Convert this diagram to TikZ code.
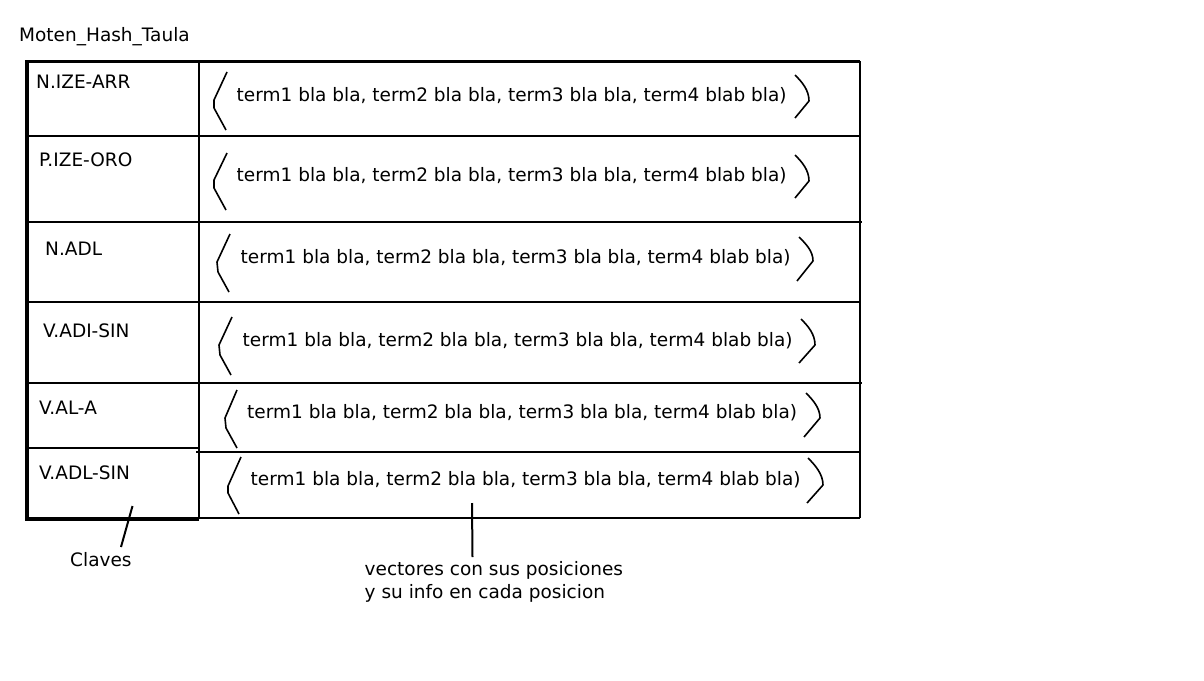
\documentclass[tikz,border=0pt]{standalone}
\usepackage{fontspec}
\setmainfont{DejaVu Sans}
\begin{document}
\begin{tikzpicture}[x=1pt,y=-1pt,
  txt/.style={anchor=base west,inner sep=0pt,font=\fontsize{18.5}{22}\selectfont},
  thin/.style={line width=2pt},
  brk/.style={line width=1.6pt,line join=round}]
\useasboundingbox (0,0) rectangle (1204,680);
% title
\node[txt] (title) at (19,41) {Moten\_Hash\_Taula};
% table lines
\draw[line width=3pt] (27,61) -- (860,61);
\draw[thin] (860,61) -- (860,518);
\draw[thin] (199,61) -- (199,519);
\draw[thin] (27,136) -- (860,136);
\draw[thin] (27,222) -- (862,222);
\draw[thin] (27,302) -- (860,302);
\draw[thin] (27,383) -- (862,383);
\draw[thin] (27,448) -- (199,448);
\draw[thin] (196,452) -- (860,452);
\draw[thin] (199,518) -- (860,518);
\draw[line width=3.5pt] (199,519) -- (27,519) -- (27,59.5);
% keys
\node[txt] (k1) at (36,88) {N.IZE-ARR};
\node[txt] (k2) at (39,166) {P.IZE-ORO};
\node[txt] (k3) at (45,255) {N.ADL};
\node[txt] (k4) at (43,337) {V.ADI-SIN};
\node[txt] (k5) at (39,414) {V.AL-A};
\node[txt] (k6) at (39,479) {V.ADL-SIN};
% vectors
\node[txt] (v1) at (236.5,101) {term1 bla bla, term2 bla bla, term3 bla bla, term4 blab bla)};
\node[txt] (v2) at (236.5,181) {term1 bla bla, term2 bla bla, term3 bla bla, term4 blab bla)};
\node[txt] (v3) at (240.5,263) {term1 bla bla, term2 bla bla, term3 bla bla, term4 blab bla)};
\node[txt] (v4) at (242.5,346) {term1 bla bla, term2 bla bla, term3 bla bla, term4 blab bla)};
\node[txt] (v5) at (247,418) {term1 bla bla, term2 bla bla, term3 bla bla, term4 blab bla)};
\node[txt] (v6) at (250.5,485) {term1 bla bla, term2 bla bla, term3 bla bla, term4 blab bla)};
% left brackets
\draw[brk] (227,72) -- (214,100) -- (214,108) -- (226,130);
\draw[brk] (227,153) -- (214,180) -- (214,188) -- (226,210);
\draw[brk] (230,234) -- (217,262) -- (218,272) -- (229,292);
\draw[brk] (232,317) -- (219,345) -- (220,355) -- (231,375);
\draw[brk] (237,390) -- (225,418) -- (226,428) -- (237,448);
\draw[brk] (241,457) -- (228,486) -- (228,493) -- (239,514);
% right brackets
\draw[brk] (795,75) .. controls (802,82) and (809,90) .. (809,101) -- (795,118);
\draw[brk] (795,155) .. controls (802,162) and (809,170) .. (809,181) -- (795,198);
\draw[brk] (799,237) .. controls (806,244) and (813,251) .. (813,261) -- (797,281);
\draw[brk] (801,319) .. controls (808,326) and (815,334) .. (815,345) -- (799,363);
\draw[brk] (806,393) .. controls (813,400) and (820,408) .. (820,418) -- (804,437);
\draw[brk] (808,458) .. controls (815,465) and (823,474) .. (823,485) -- (807,503);
% annotations
\node[txt] (claves) at (70,566) {Claves};
\coordinate (cp) at (132.5,506);
\draw[thin] (cp) -- (121,547);
\node[txt,align=left,anchor=north west] (vec) at (364.5,561) {vectores con sus posiciones\\[1pt]y su info en cada posicion};
\coordinate (vp) at (472,503);
\draw[thin] (vp) -- (472.5,557);
\end{tikzpicture}
\end{document}
